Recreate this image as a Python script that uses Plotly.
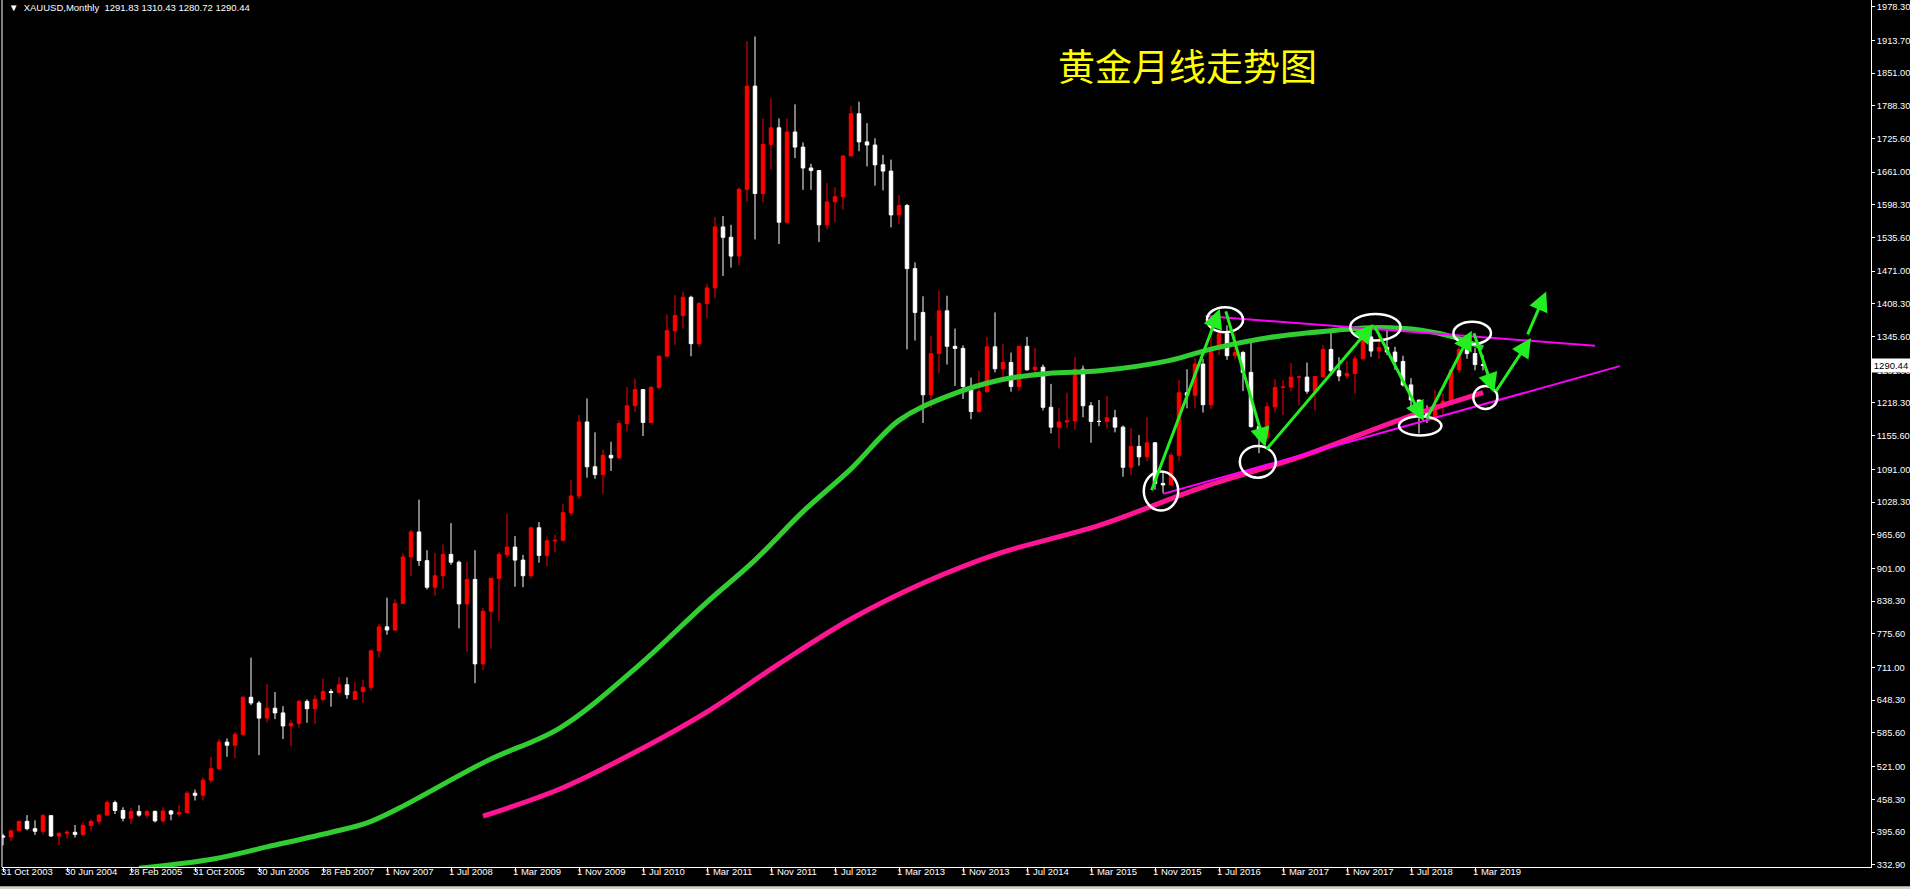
import plotly.graph_objects as go

# ---------------- data (monthly XAUUSD bars, left to right) ----------------
opens = [388, 386, 398,
         416, 402, 397, 427, 388, 393, 395, 391, 408, 416, 428, 452,
         437, 422, 435, 428, 435, 417, 436, 430, 433, 470, 466, 495,
         517, 568, 562, 583, 654, 643, 614, 633, 624, 599, 604, 646,
         632, 650, 665, 663, 678, 650, 665, 673, 743, 789, 783,
         834, 923, 971, 916, 865, 887, 928, 913, 833, 880, 718, 819,
         882, 928, 942, 917, 887, 979, 926, 954, 955, 1008, 1040, 1182,
         1096, 1081, 1118, 1113, 1179, 1213, 1244, 1181, 1248, 1308, 1357, 1386,
         1421, 1332, 1409, 1439, 1556, 1536, 1500, 1628, 1826, 1620, 1714, 1746,
         1565, 1738, 1709, 1669, 1664, 1560, 1604, 1614, 1692, 1773, 1719, 1713,
         1675, 1663, 1579, 1597, 1476, 1392, 1234, 1313, 1395, 1327, 1323, 1250,
         1202, 1240, 1326, 1284, 1296, 1250, 1327, 1282, 1287, 1210, 1172, 1182,
         1184, 1283, 1213, 1183, 1183, 1190, 1172, 1095, 1135, 1115, 1142, 1064,
         1061, 1118, 1238, 1233, 1293, 1215, 1322, 1351, 1309, 1315, 1277, 1173,
         1151, 1211, 1248, 1249, 1268, 1268, 1241, 1269, 1321, 1280, 1270, 1275,
         1303, 1345, 1318, 1325, 1316, 1298, 1253, 1224, 1201, 1192, 1215, 1222,
         1282, 1321, 1313, 1291.83]
highs = [392, 398, 417,
         428, 418, 430, 428, 395, 399, 409, 415, 420, 430, 456, 456,
         443, 442, 447, 438, 437, 443, 438, 448, 474, 477, 500, 540,
         574, 575, 587, 656, 730, 647, 679, 664, 637, 610, 649, 650,
         658, 690, 670, 693, 692, 683, 687, 744, 795, 845, 842,
         930, 975, 1033, 936, 931, 947, 988, 916, 914, 936, 825, 881,
         932, 1006, 963, 927, 980, 990, 962, 966, 1024, 1070, 1195, 1227,
         1162, 1129, 1144, 1185, 1249, 1265, 1245, 1251, 1310, 1388, 1425, 1432,
         1424, 1412, 1447, 1575, 1577, 1560, 1632, 1912, 1921, 1764, 1803, 1764,
         1764, 1791, 1718, 1677, 1665, 1640, 1632, 1693, 1788, 1796, 1755, 1726,
         1694, 1685, 1617, 1600, 1488, 1423, 1347, 1434, 1424, 1361, 1329, 1267,
         1280, 1345, 1392, 1331, 1315, 1326, 1345, 1324, 1292, 1255, 1208, 1238,
         1307, 1290, 1220, 1224, 1232, 1205, 1175, 1170, 1157, 1191, 1143, 1088,
         1123, 1263, 1283, 1304, 1303, 1362, 1375, 1367, 1352, 1318, 1338, 1180,
         1220, 1264, 1262, 1295, 1270, 1296, 1270, 1330, 1357, 1306, 1299, 1309,
         1366, 1361, 1356, 1365, 1326, 1309, 1266, 1224, 1214, 1243, 1237, 1284,
         1326, 1347, 1324, 1310.43]
lows = [370, 378, 398,
        399, 390, 391, 386, 371, 383, 385, 388, 398, 410, 426, 430,
        416, 411, 425, 422, 414, 414, 418, 425, 432, 456, 456, 489,
        516, 540, 537, 580, 639, 543, 606, 612, 574, 560, 596, 605,
        603, 645, 636, 662, 651, 649, 643, 667, 730, 774, 781,
        835, 887, 906, 861, 849, 862, 908, 786, 741, 681, 706, 747,
        800, 922, 866, 865, 882, 912, 905, 932, 953, 1003, 1034, 1075,
        1073, 1044, 1088, 1111, 1164, 1201, 1155, 1180, 1245, 1315, 1330, 1361,
        1308, 1326, 1381, 1419, 1462, 1478, 1482, 1604, 1532, 1603, 1666, 1523,
        1563, 1688, 1627, 1627, 1527, 1551, 1565, 1589, 1692, 1701, 1672, 1635,
        1626, 1555, 1562, 1321, 1338, 1180, 1208, 1275, 1292, 1251, 1226, 1187,
        1200, 1238, 1277, 1268, 1240, 1241, 1280, 1273, 1204, 1160, 1131, 1170,
        1167, 1191, 1142, 1174, 1170, 1162, 1077, 1080, 1098, 1107, 1052, 1046,
        1062, 1107, 1208, 1208, 1200, 1207, 1310, 1301, 1302, 1241, 1171, 1122,
        1146, 1200, 1195, 1241, 1214, 1236, 1204, 1267, 1271, 1260, 1265, 1236,
        1302, 1307, 1303, 1310, 1282, 1250, 1211, 1160, 1180, 1183, 1196, 1221,
        1276, 1303, 1281, 1280.72]
closes = [386, 398, 416,
          402, 397, 427, 388, 393, 395, 391, 408, 416, 428, 452, 437,
          422, 435, 428, 435, 417, 436, 430, 433, 470, 466, 495, 517,
          568, 562, 583, 654, 643, 614, 633, 624, 599, 604, 646, 632,
          650, 665, 663, 678, 659, 665, 673, 743, 789, 783, 834,
          923, 971, 916, 865, 887, 928, 913, 833, 880, 718, 819, 882,
          928, 942, 917, 887, 979, 926, 954, 955, 1008, 1040, 1182, 1096,
          1081, 1118, 1113, 1179, 1213, 1244, 1181, 1248, 1308, 1357, 1386, 1421,
          1332, 1409, 1439, 1556, 1536, 1500, 1628, 1826, 1620, 1714, 1746, 1565,
          1738, 1709, 1669, 1664, 1560, 1604, 1614, 1692, 1773, 1719, 1713, 1675,
          1663, 1579, 1597, 1476, 1392, 1234, 1313, 1395, 1327, 1323, 1250, 1202,
          1240, 1326, 1284, 1296, 1250, 1327, 1282, 1287, 1210, 1172, 1182, 1184,
          1283, 1213, 1183, 1183, 1190, 1172, 1095, 1135, 1115, 1142, 1064, 1061,
          1118, 1238, 1233, 1293, 1215, 1322, 1351, 1309, 1315, 1277, 1173, 1151,
          1211, 1248, 1249, 1268, 1268, 1241, 1269, 1321, 1280, 1270, 1275, 1303,
          1345, 1318, 1325, 1316, 1298, 1253, 1224, 1201, 1192, 1215, 1222, 1282,
          1321, 1313, 1292, 1290.44]

# x-axis labels (one every 8 bars)
date_labels = ["31 Oct 2003", "30 Jun 2004", "28 Feb 2005", "31 Oct 2005", "30 Jun 2006",
               "28 Feb 2007", "1 Nov 2007", "1 Jul 2008", "1 Mar 2009", "1 Nov 2009",
               "1 Jul 2010", "1 Mar 2011", "1 Nov 2011", "1 Jul 2012", "1 Mar 2013",
               "1 Nov 2013", "1 Jul 2014", "1 Mar 2015", "1 Nov 2015", "1 Jul 2016",
               "1 Mar 2017", "1 Nov 2017", "1 Jul 2018", "1 Mar 2019"]
# price axis labels
price_labels = [1978.30, 1913.70, 1851.00, 1788.30, 1725.60, 1661.00, 1598.30, 1535.60,
                1471.00, 1408.30, 1345.60, 1281.00, 1218.30, 1155.60, 1091.00, 1028.30,
                965.60, 901.00, 838.30, 775.60, 711.00, 648.30, 585.60, 521.00, 458.30,
                395.60, 332.90]

# moving averages (bar index, price)
ma_green_x = [17, 26.3, 33, 41.3, 45.5, 49.6, 60.5, 69.6, 78.8, 87.9, 94, 100, 106,
              112, 118, 124.5, 130.6, 137.1, 145.6, 151.1, 158.3, 166.7, 171.8, 177.3,
              181.5, 185]
ma_green_y = [326, 344, 367, 396, 413, 442, 532, 595, 706, 835, 917, 1010, 1092,
              1185, 1231, 1262, 1275, 1280, 1299, 1322, 1344, 1358, 1363, 1358,
              1344, 1324]
ma_pink_x = [60, 69.6, 78.8, 87.9, 97, 106, 115.3, 124.5, 137.1, 149.8, 162.5, 175.1, 185]
ma_pink_y = [426, 478, 547, 625, 718, 804, 875, 930, 984, 1056, 1117, 1189, 1238]

# hand-drawn trend lines (bar index, price)
trend_upper = [(150.3, 1385), (199.0, 1328)]
trend_lower = [(145.0, 1044), (202.1, 1289)]
# arrows: (tail idx, tail price, head idx, head price)
arrows = [(143.5, 1048, 152.1, 1399), (152.8, 1397, 157.8, 1134),
          (157.8, 1127, 171.3, 1370), (171.4, 1367, 177.6, 1184),
          (177.9, 1186, 183.6, 1357), (183.8, 1355, 186.4, 1238),
          (186.5, 1238, 191.0, 1343), (190.5, 1347, 192.9, 1432)]
# ellipses: (x0, x1, y0, y1) in bar index / price
ellipses = [(142.6, 146.9, 1012, 1087), (150.5, 155.0, 1354, 1402),
            (154.6, 159.1, 1075, 1136), (168.4, 174.7, 1338, 1389),
            (174.5, 179.8, 1156, 1193), (181.3, 186.0, 1331, 1374),
            (183.8, 186.8, 1207, 1251)]

idx = list(range(len(opens)))

fig = go.Figure()
fig.add_trace(go.Scatter(x=ma_green_x, y=ma_green_y, mode="lines",
                         line=dict(color="#32CD32", width=5, shape="spline"),
                         hoverinfo="skip", showlegend=False))
fig.add_trace(go.Scatter(x=ma_pink_x, y=ma_pink_y, mode="lines",
                         line=dict(color="#FF1493", width=5, shape="spline"),
                         hoverinfo="skip", showlegend=False))
fig.add_trace(go.Candlestick(
    x=idx, open=opens, high=highs, low=lows, close=closes,
    increasing=dict(line=dict(color="#FF0000", width=1), fillcolor="#FF0000"),
    decreasing=dict(line=dict(color="#FFFFFF", width=1), fillcolor="#FFFFFF"),
    whiskerwidth=0, showlegend=False))

for (a, b) in [trend_upper, trend_lower]:
    fig.add_trace(go.Scatter(x=[a[0], b[0]], y=[a[1], b[1]], mode="lines",
                             line=dict(color="#FF00FF", width=2),
                             hoverinfo="skip", showlegend=False))

shapes = []
for (x0, x1, y0, y1) in ellipses:
    shapes.append(dict(type="circle", xref="x", yref="y", x0=x0, x1=x1, y0=y0, y1=y1,
                       line=dict(color="#FFFFFF", width=2.5)))
# left frame line
shapes.append(dict(type="line", xref="paper", yref="paper", x0=0, x1=0, y0=0, y1=1,
                   line=dict(color="#FFFFFF", width=1)))
# light strip at bottom of window
shapes.append(dict(type="rect", xref="paper", yref="paper", x0=-0.01, x1=1.05,
                   y0=-0.0262, y1=-0.0222, line=dict(width=0), fillcolor="#D4D0C8"))

annotations = []
for (tx, ty, hx, hy) in arrows:
    annotations.append(dict(x=hx, y=hy, ax=tx, ay=ty, xref="x", yref="y",
                            axref="x", ayref="y", showarrow=True, arrowhead=2,
                            arrowsize=1.3, arrowwidth=3, arrowcolor="#22EE22", text=""))
annotations.append(dict(x=0.0027, y=1.0, xref="paper", yref="paper", xanchor="left",
                        yanchor="top", showarrow=False,
                        text="\u25BC  XAUUSD,Monthly  1291.83 1310.43 1280.72 1290.44",
                        font=dict(family="Liberation Sans", size=9.5, color="#FFFFFF")))
annotations.append(dict(x=(1187 - 2) / 1869, y=(867 - 65) / 867, xref="paper",
                        yref="paper", xanchor="center", yanchor="middle",
                        showarrow=False, text="黄金月线走势图",
                        font=dict(family="Noto Sans CJK SC", size=37, color="#FFFF00")))
annotations.append(dict(x=1.0, y=closes[-1], xref="paper", yref="y", xanchor="left",
                        yanchor="middle", showarrow=False, text=f"{closes[-1]:.2f}",
                        bgcolor="#FFFFFF", borderpad=1, width=36,
                        font=dict(family="Liberation Sans", size=9.5, color="#000000")))

fig.update_layout(
    width=1910, height=889,
    margin=dict(l=2, r=39, t=0, b=22),
    paper_bgcolor="#000000", plot_bgcolor="#000000",
    showlegend=False, boxgap=0.375,
    shapes=shapes, annotations=annotations,
    xaxis=dict(range=[-0.125, 233.5], rangeslider=dict(visible=False),
               tickvals=[8 * k for k in range(len(date_labels))], ticktext=date_labels,
               ticks="outside", ticklen=4, tickcolor="#FFFFFF",
               ticklabelposition="outside right", ticklabelshift=-3,
               ticklabelstandoff=-4, ticklabeloverflow="allow",
               tickfont=dict(family="Liberation Sans", size=9.5, color="#FFFFFF"),
               showline=True, linecolor="#FFFFFF", linewidth=1,
               showgrid=False, zeroline=False, fixedrange=True),
    yaxis=dict(range=[328.5, 1991.1], side="right",
               tickvals=price_labels, ticktext=[f"{v:.2f}" for v in price_labels],
               ticks="outside", ticklen=3, tickcolor="#FFFFFF",
               tickfont=dict(family="Liberation Sans", size=9.3, color="#FFFFFF"),
               showline=True, linecolor="#FFFFFF", linewidth=1,
               showgrid=False, zeroline=False, fixedrange=True),
)

fig.write_html("out.html", config={"displayModeBar": False},
               post_script="document.body.style.margin='0';document.body.style.overflow='hidden';")
